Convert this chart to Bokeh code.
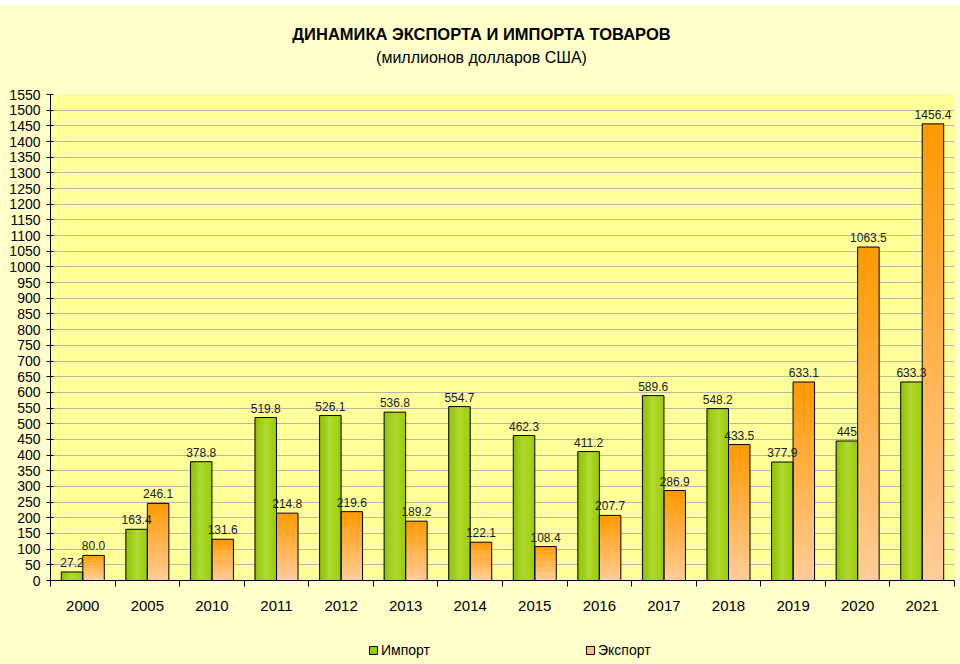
from bokeh.plotting import figure
from bokeh.models import (Range1d, FixedTicker, Legend, LegendItem, Spacer,
                          ColumnDataSource)
from bokeh.layouts import column
from bokeh.core.properties import value
from bokeh.embed import file_html
from bokeh.resources import INLINE

years = ["2000", "2005", "2010", "2011", "2012", "2013", "2014", "2015",
         "2016", "2017", "2018", "2019", "2020", "2021"]
imports = [27.2, 163.4, 378.8, 519.8, 526.1, 536.8, 554.7, 462.3, 411.2,
           589.6, 548.2, 377.9, 445.0, 633.3]
exports = [80.0, 246.1, 131.6, 214.8, 219.6, 189.2, 122.1, 108.4, 207.7,
           286.9, 433.5, 633.1, 1063.5, 1456.4]
import_labels = ["27.2", "163.4", "378.8", "519.8", "526.1", "536.8", "554.7",
                 "462.3", "411.2", "589.6", "548.2", "377.9", "445", "633.3"]
export_labels = ["80.0", "246.1", "131.6", "214.8", "219.6", "189.2", "122.1",
                 "108.4", "207.7", "286.9", "433.5", "633.1", "1063.5", "1456.4"]
y_ticks = list(range(0, 1551, 50))
title_text = "ДИНАМИКА ЭКСПОРТА И ИМПОРТА ТОВАРОВ"
subtitle_text = "(миллионов долларов США)"
series_names = ["Импорт", "Экспорт"]

FONT = "Liberation Sans"
OUTER = "#FFFFCC"
BAR_W = 0.333
FRAME_L, FRAME_R = 50, 954   # page x of the (column-aligned) frames


def hex_to_rgb(h):
    h = h.lstrip("#")
    return tuple(int(h[i:i + 2], 16) for i in (0, 2, 4))


def mix(c1, c2, t):
    a, b = hex_to_rgb(c1), hex_to_rgb(c2)
    return "#%02x%02x%02x" % tuple(round(a[i] + (b[i] - a[i]) * t) for i in range(3))


def blank_fig(h):
    f = figure(width=960, height=h, output_backend="svg", toolbar_location=None,
               x_range=Range1d(FRAME_L, FRAME_R), y_range=Range1d(0, h),
               x_axis_type=None, y_axis_type=None,
               min_border_left=FRAME_L, min_border_right=960 - FRAME_R,
               min_border_top=0, min_border_bottom=0)
    f.background_fill_color = OUTER
    f.border_fill_color = OUTER
    f.outline_line_color = None
    f.grid.visible = False
    return f


# ---------- header (titles) ----------
HEAD_H = 79
head = blank_fig(HEAD_H)
head.text(x=[481], y=[HEAD_H - 28], text=[title_text], text_align="center",
          text_baseline="middle", text_font=value(FONT), text_font_size="16.5px",
          text_font_style="bold", text_color="#000000")
head.text(x=[481], y=[HEAD_H - 52], text=[subtitle_text], text_align="center",
          text_baseline="middle", text_font=value(FONT), text_font_size="16px",
          text_color="#000000")

# ---------- main chart ----------
n = len(years)
centers = [i + 0.5 for i in range(n)]
x_imp = [c - BAR_W / 2 for c in centers]
x_exp = [c + BAR_W / 2 for c in centers]

p = figure(width=960, height=536, output_backend="svg", toolbar_location=None,
           x_range=Range1d(0, n), y_range=Range1d(0, 1550),
           min_border_left=FRAME_L, min_border_right=960 - FRAME_R,
           min_border_top=10, min_border_bottom=40)
p.background_fill_color = "#FFFF99"
p.border_fill_color = OUTER
p.outline_line_color = None

# Green bars: horizontal gradient (slices across width)
NS = 12
gl, gm, gr = "#8AC000", "#B0D830", "#99CC00"
for k in range(NS):
    t = (k + 0.5) / NS
    col = mix(gl, gm, t * 2) if t < 0.5 else mix(gm, gr, (t - 0.5) * 2)
    sw = BAR_W / NS
    xs = [x - BAR_W / 2 + sw * (k + 0.5) for x in x_imp]
    p.vbar(x=xs, top=imports, bottom=0, width=sw * 1.25, fill_color=col,
           line_color=None)

# Orange bars: vertical gradient (slices along height)
NV = 40
ob, ot = "#FFCC99", "#FF9900"
for k in range(NV):
    col = mix(ob, ot, (k + 0.5) / NV)
    bots = [v * k / NV for v in exports]
    tops = [v * min(k + 1.4, NV) / NV for v in exports]
    p.vbar(x=x_exp, top=tops, bottom=bots, width=BAR_W, fill_color=col,
           line_color=None)

# Outlines
p.vbar(x=x_imp, top=imports, bottom=0, width=BAR_W, fill_alpha=0,
       line_color="#000000", line_width=1)
p.vbar(x=x_exp, top=exports, bottom=0, width=BAR_W, fill_alpha=0,
       line_color="#000000", line_width=1)

# Value labels
p.text(x=x_imp, y=imports, text=import_labels, text_align="center",
       text_baseline="bottom", y_offset=-5, text_font=value(FONT),
       text_font_size="12px", text_color="#1a1a1a")
p.text(x=x_exp, y=exports, text=export_labels, text_align="center",
       text_baseline="bottom", y_offset=-5, text_font=value(FONT),
       text_font_size="12px", text_color="#1a1a1a")

# Axes
p.xaxis.ticker = FixedTicker(ticks=centers, minor_ticks=list(range(0, n + 1)))
p.xaxis.major_label_overrides = {c: y for c, y in zip(centers, years)}
p.xaxis.major_tick_out = 0
p.xaxis.major_tick_in = 0
p.xaxis.minor_tick_out = 6
p.xaxis.minor_tick_in = 0
p.xaxis.minor_tick_line_color = "#000000"
p.xaxis.major_label_standoff = 14
p.xaxis.major_label_text_font = FONT
p.xaxis.major_label_text_font_size = "15px"
p.xaxis.major_label_text_color = "#000000"
p.xaxis.axis_line_color = "#000000"

p.yaxis.ticker = FixedTicker(ticks=y_ticks)
p.yaxis.major_tick_out = 4
p.yaxis.major_tick_in = 3
p.yaxis.minor_tick_line_color = None
p.yaxis.major_label_standoff = 6
p.yaxis.major_label_text_font = FONT
p.yaxis.major_label_text_font_size = "14px"
p.yaxis.major_label_text_color = "#000000"
p.yaxis.axis_line_color = "#000000"
p.yaxis.major_tick_line_color = "#000000"

p.xgrid.grid_line_color = None
p.ygrid.ticker = FixedTicker(ticks=y_ticks)
p.ygrid.grid_line_color = "#B8B8A8"
p.ygrid.grid_line_width = 1

# ---------- legend strip ----------
LEG_H = 44
leg = blank_fig(LEG_H)
# proxy renderers (their single point lies outside the visible range)
src_proxy = ColumnDataSource(dict(x=[-1000], top=[0]))
r_imp = leg.vbar(x="x", top="top", width=1, source=src_proxy,
                 fill_color="#99CC00", line_color="#000000")
r_exp = leg.vbar(x="x", top="top", width=1, source=src_proxy,
                 fill_color="#FFBB77", line_color="#000000")
legend = Legend(items=[LegendItem(label=series_names[0], renderers=[r_imp]),
                       LegendItem(label=series_names[1], renderers=[r_exp])],
                orientation="horizontal", location=(316, 4), spacing=155,
                glyph_width=10, glyph_height=10, label_standoff=3,
                label_text_font=FONT, label_text_font_size="14px",
                label_text_color="#000000", label_height=14,
                border_line_alpha=0, background_fill_alpha=0,
                padding=2, margin=0)
leg.add_layout(legend, "center")

layout = column(Spacer(width=960, height=5, styles={"background-color": "white"}),
                head, p, leg, styles={"background-color": OUTER})
open("out.html", "w").write(file_html(layout, INLINE))
